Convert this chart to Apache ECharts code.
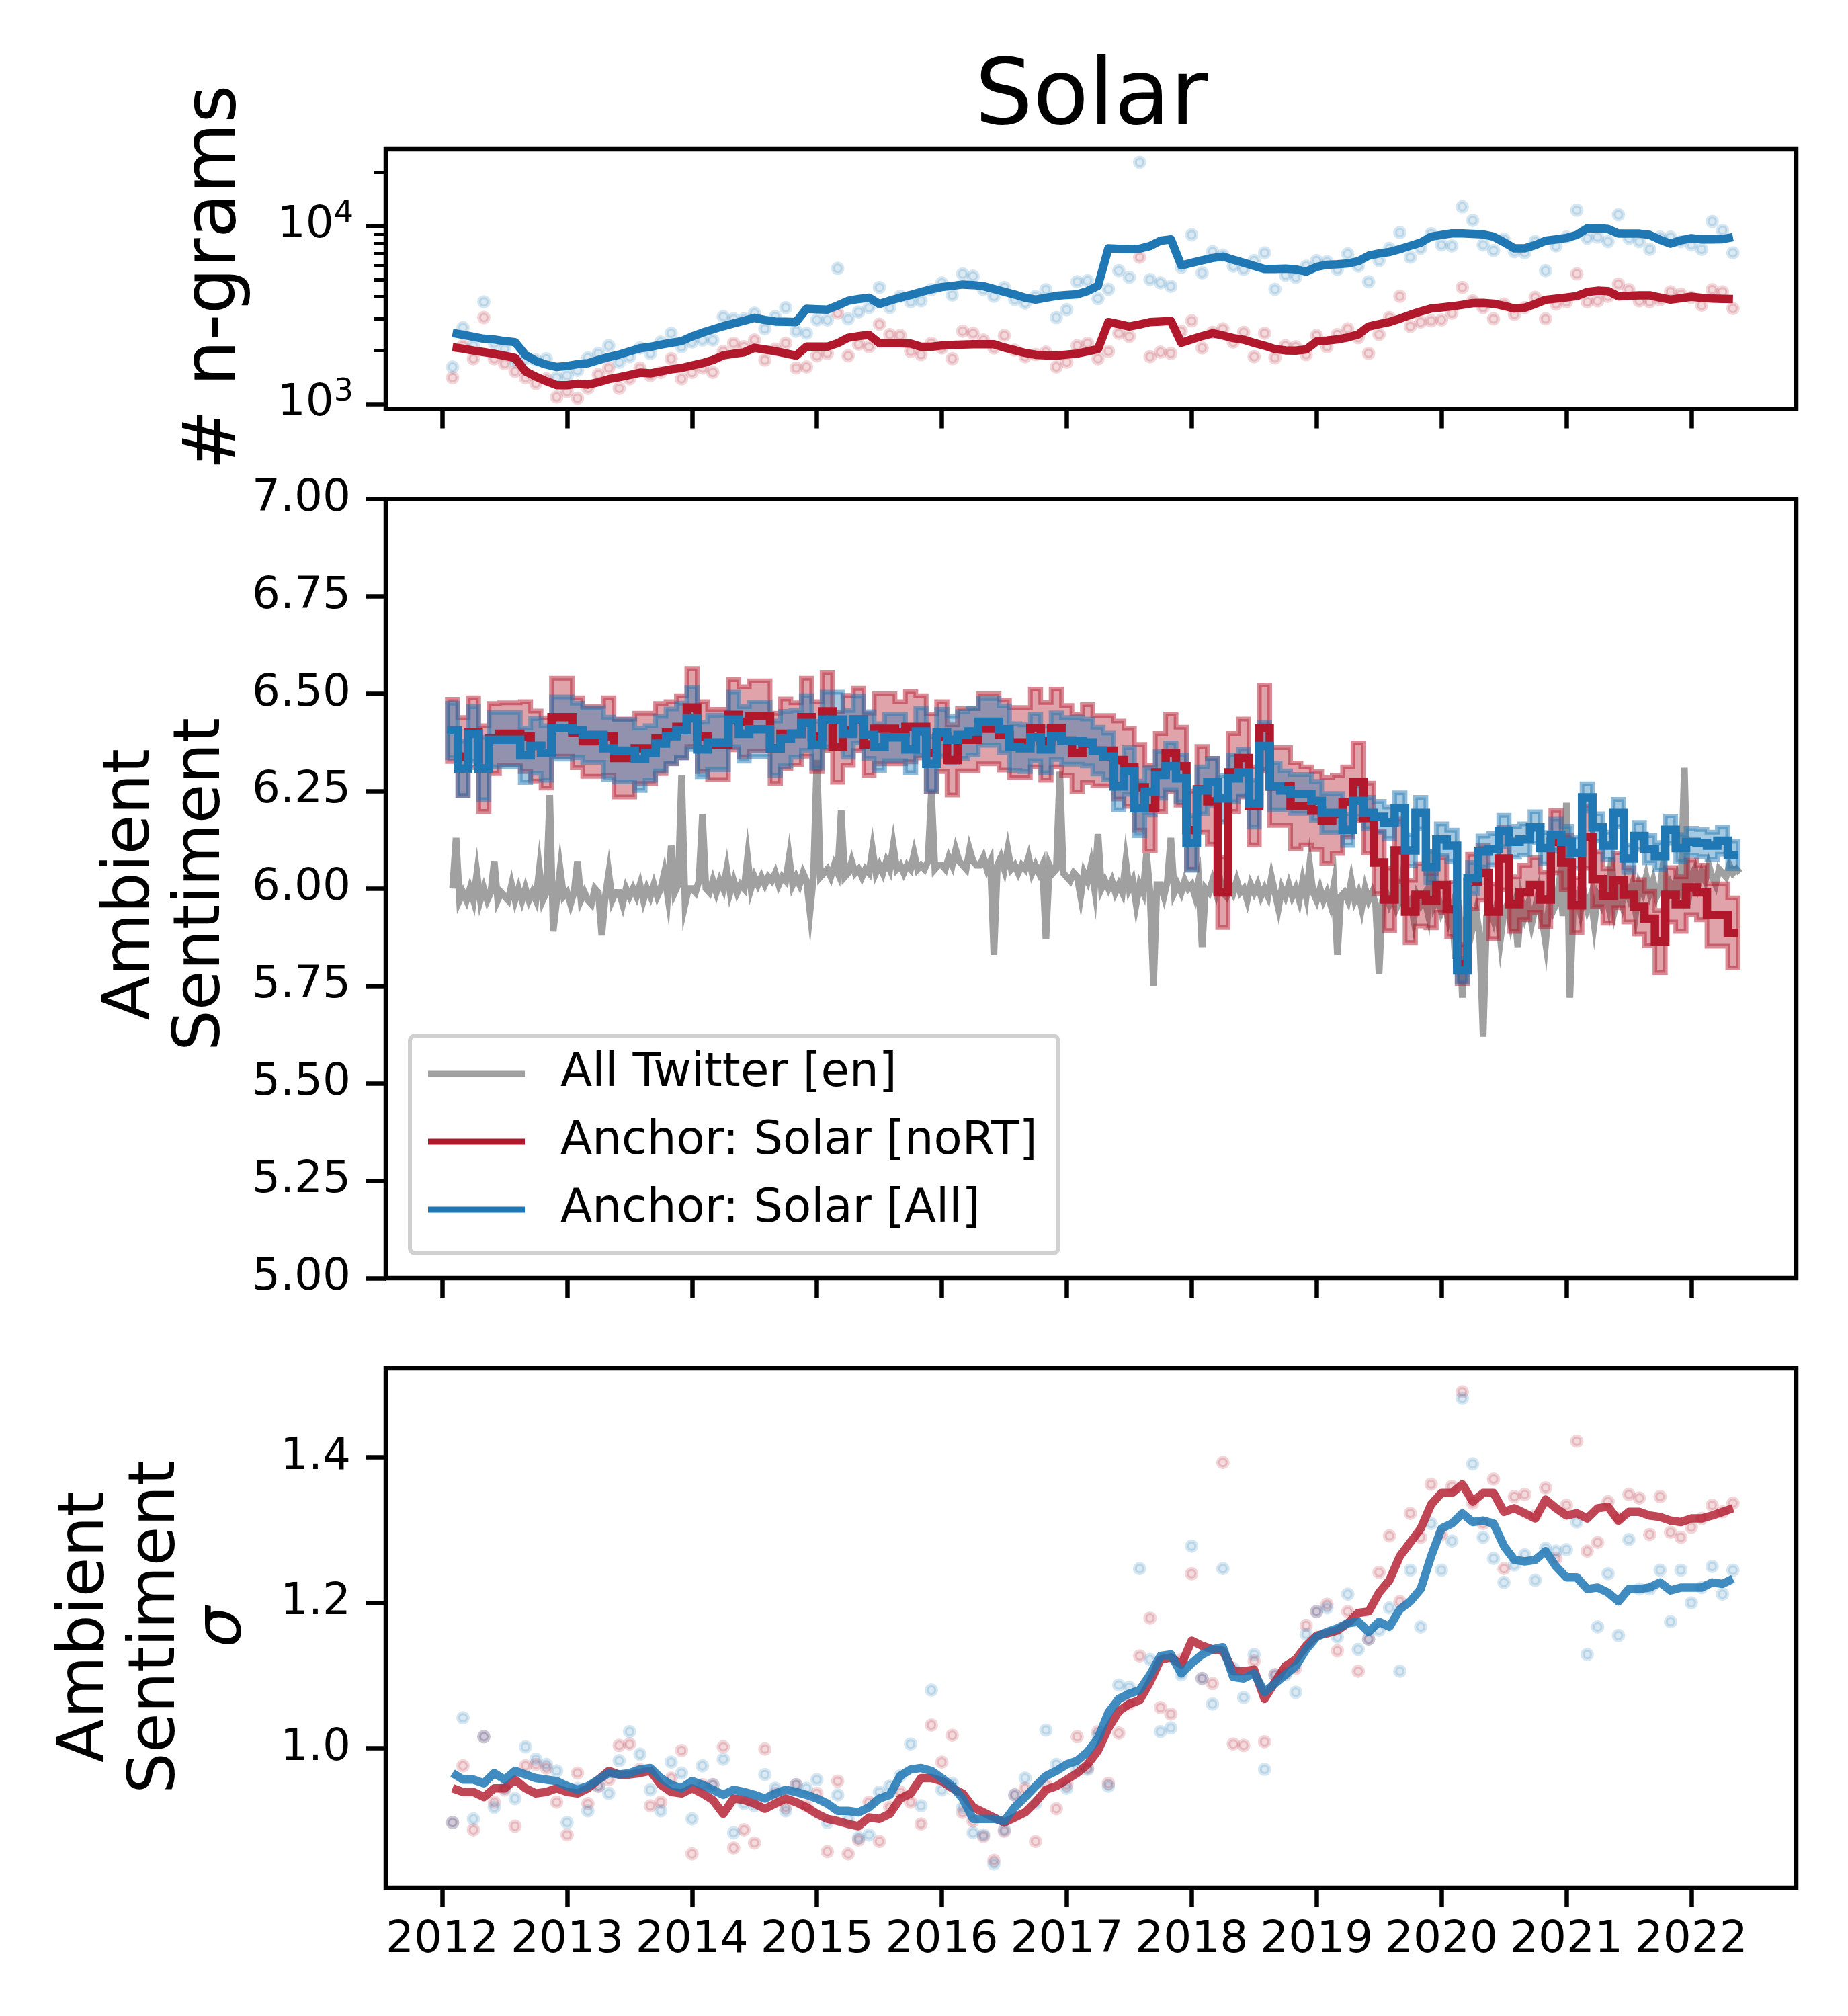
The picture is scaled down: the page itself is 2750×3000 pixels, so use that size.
<!DOCTYPE html>
<html><head><meta charset="utf-8">
<script src="https://cdn.jsdelivr.net/npm/echarts@6/dist/echarts.min.js"></script>
<style>html,body{margin:0;padding:0;background:#fff}#c{width:2750px;height:3000px}</style>
</head><body><div id="c"></div>
<script>
// ---------------- DATA ----------------
const firstYear = 2012, firstMonth = 2;           // monthly series start Feb 2012
const yearTicks = [2012,2013,2014,2015,2016,2017,2018,2019,2020,2021,2022];
const ngramTicks = [1000, 10000];
const ngramMinorTicks = [2000,3000,4000,5000,6000,7000,8000,9000,20000];
const sentimentTicks = [5.00,5.25,5.50,5.75,6.00,6.25,6.50,6.75,7.00];
const sigmaTicks = [1.0,1.2,1.4];
const legendNames = ['All Twitter [en]','Anchor: Solar [noRT]','Anchor: Solar [All]'];

const ngramsBlueDots = [1610,2680,2120,3740,2190,2030,1740,1790,1760,1790,1400,1440,1540,1810,1920,2120,1710,1840,2060,1920,2220,2490,2090,2220,2280,2280,3090,3000,3000,3230,2640,3090,3470,2560,2490,2960,2960,5770,3000,3280,3470,4510,3470,4020,3740,3790,4380,4780,4080,5370,5210,4380,4020,4510,3850,3680,4020,4380,3050,3380,4850,4920,3900,4400,5600,5140,22800,4990,4780,4570,5850,8910,5440,7170,6860,5940,5690,6380,7060,4400,5290,5140,5940,6380,6290,5690,6960,5940,4850,6380,7480,9170,6660,7480,9040,7820,7710,12790,10740,7820,7270,8410,7170,7060,8170,5600,7710,8650,12250,8530,8650,8170,11560,8530,8170,7380,8650,8650,8170,7820,7380,10590,9440,7060];
const ngramsRedDots = [1400,2120,1790,3050,1790,1680,1520,1400,1300,1380,1090,1170,1075,1220,1460,1590,1220,1380,1590,1440,1500,1790,1380,1500,1590,1500,1970,2190,2090,2280,1760,2030,2190,1590,1610,1860,1920,3230,1860,2160,2090,2800,2450,2420,1970,1890,2190,2060,1790,2560,2490,2280,2060,2420,2000,1840,1890,1950,1610,1710,2120,2190,1790,1970,2490,2390,6660,1840,1950,1920,2560,2920,2060,2520,2640,2220,2520,1840,2490,1810,2120,2090,1890,2420,2090,2450,2640,2350,1920,2450,3050,4020,2720,2880,2920,2960,3230,4510,3790,3470,3000,3630,3180,3470,3960,3000,3630,3740,5370,3740,3790,4020,4710,4380,3790,3740,3850,4260,4130,3960,3580,4380,4260,3430];
const ngramsBlueLine = [2500,2440,2380,2320,2300,2250,2220,1880,1740,1660,1610,1630,1670,1690,1760,1830,1890,1970,2050,2090,2150,2200,2250,2390,2510,2620,2730,2830,2930,3040,2960,2900,2890,2880,3420,3400,3380,3570,3790,3880,3950,3640,3800,3950,4090,4250,4400,4530,4600,4680,4650,4580,4420,4260,4110,3950,3850,3940,4040,4090,4120,4300,4600,7480,7440,7400,7450,7700,8250,8400,5990,6200,6400,6600,6720,6450,6200,5950,5720,5720,5750,5700,5530,5880,6050,6090,6150,6330,6800,7000,7130,7400,7720,8050,8700,8900,9080,9080,9020,8960,8700,8100,7480,7480,7800,8250,8400,8550,8900,9700,9710,9600,9050,9050,9050,8900,8350,7950,8300,8530,8400,8400,8420,8650];
const ngramsRedLine = [2080,2040,1990,1950,1910,1860,1810,1520,1420,1340,1270,1270,1295,1280,1320,1375,1410,1450,1495,1482,1520,1560,1590,1640,1690,1760,1870,1910,1945,2063,2020,1975,1920,1865,2094,2094,2094,2190,2350,2400,2440,2190,2190,2190,2180,2090,2090,2125,2140,2150,2160,2160,2160,2070,2000,1930,1885,1870,1862,1890,1915,1970,2030,2880,2800,2720,2790,2880,2900,2920,2200,2300,2400,2490,2420,2340,2290,2200,2120,2030,1995,1990,2020,2240,2265,2300,2360,2450,2720,2800,2880,3010,3160,3300,3430,3480,3530,3600,3680,3690,3650,3550,3430,3470,3640,3840,3900,3960,4030,4250,4320,4300,4020,4040,4070,4070,3950,3850,3920,4000,3940,3900,3890,3880];

const sentimentBlue = [6.406,6.308,6.397,6.308,6.382,6.382,6.382,6.342,6.366,6.348,6.412,6.412,6.406,6.394,6.394,6.36,6.354,6.354,6.332,6.348,6.372,6.391,6.406,6.437,6.357,6.375,6.375,6.434,6.397,6.409,6.409,6.36,6.385,6.397,6.425,6.369,6.434,6.434,6.397,6.434,
6.394,6.363,6.388,6.388,6.357,6.403,6.32,6.40,6.382,6.394,6.403,6.428,6.428,6.409,6.363,6.36,6.388,6.357,6.391,6.379,6.379,6.375,6.354,6.339,6.262,6.302,6.206,6.249,6.292,6.314,6.283,6.117,6.252,6.274,6.231,6.283,6.298,6.218,6.366,6.262,6.252,6.243,6.243,6.225,6.194,
6.194,6.151,6.225,6.194,6.184,6.169,6.206,6.098,6.194,6.055,6.126,6.11,5.79,6.027,6.095,6.101,6.148,6.12,6.126,6.157,6.104,6.138,6.12,6.092,6.234,6.157,6.11,6.194,6.077,6.135,6.101,6.083,6.151,6.104,6.12,6.117,6.11,6.123,6.086];
const sentimentRed = [6.406,6.339,6.40,6.308,6.385,6.397,6.397,6.39,6.366,6.348,6.44,6.44,6.40,6.378,6.378,6.39,6.335,6.335,6.36,6.36,6.385,6.40,6.415,6.465,6.39,6.37,6.37,6.446,6.428,6.443,6.443,6.36,6.397,6.397,6.44,6.39,6.455,6.363,6.406,6.434,
6.37,6.41,6.41,6.40,6.415,6.415,6.348,6.39,6.33,6.382,6.382,6.41,6.41,6.394,6.375,6.375,6.412,6.378,6.412,6.38,6.348,6.372,6.354,6.354,6.33,6.311,6.26,6.206,6.298,6.348,6.314,6.15,6.255,6.224,5.99,6.298,6.335,6.212,6.412,6.262,6.262,6.212,6.212,6.20,6.175,
6.19,6.222,6.274,6.181,6.067,5.972,6.098,5.941,5.984,5.969,6.009,5.947,5.806,6.018,6.04,5.941,6.077,5.96,5.99,6.009,5.972,6.12,6.067,5.957,6.132,6.024,5.981,6.021,5.984,5.953,5.923,5.864,5.984,5.96,6.003,5.99,5.932,5.932,5.886];
const sentimentRedErr = [0.08,0.10,0.09,0.11,0.09,0.08,0.08,0.09,0.09,0.09,0.10,0.10,0.09,0.09,0.09,0.10,0.10,0.10,0.09,0.09,0.09,0.08,0.08,0.10,0.09,0.09,0.09,0.09,0.09,0.09,0.09,0.09,0.09,0.08,0.10,0.09,0.10,0.09,0.09,0.08,
0.08,0.09,0.09,0.08,0.09,0.08,0.10,0.09,0.09,0.08,0.08,0.09,0.09,0.09,0.09,0.09,0.10,0.10,0.10,0.09,0.10,0.10,0.09,0.09,0.10,0.10,0.11,0.11,0.10,0.10,0.10,0.10,0.11,0.11,0.09,0.10,0.10,0.10,0.11,0.10,0.10,0.11,0.10,0.10,0.11,
0.10,0.09,0.10,0.09,0.08,0.08,0.08,0.08,0.08,0.07,0.07,0.07,0.05,0.07,0.07,0.07,0.08,0.07,0.07,0.07,0.07,0.08,0.07,0.07,0.08,0.07,0.07,0.07,0.07,0.07,0.07,0.08,0.07,0.07,0.07,0.07,0.08,0.08,0.09];
const sentimentBlueErr = [0.07,0.07,0.07,0.08,0.07,0.07,0.07,0.07,0.07,0.07,0.08,0.08,0.07,0.07,0.07,0.08,0.08,0.08,0.08,0.07,0.07,0.07,0.07,0.08,0.07,0.07,0.07,0.07,0.07,0.07,0.07,0.07,0.07,0.06,0.07,0.06,0.07,0.07,0.06,0.06,
0.06,0.06,0.06,0.06,0.06,0.06,0.07,0.06,0.06,0.06,0.06,0.06,0.06,0.06,0.06,0.06,0.06,0.06,0.06,0.06,0.06,0.06,0.06,0.06,0.06,0.06,0.07,0.06,0.06,0.06,0.06,0.07,0.06,0.06,0.06,0.06,0.06,0.06,0.06,0.06,0.05,0.05,0.05,0.05,0.05,
0.05,0.04,0.04,0.04,0.04,0.04,0.04,0.04,0.04,0.04,0.04,0.04,0.03,0.04,0.04,0.04,0.04,0.04,0.04,0.04,0.04,0.04,0.04,0.04,0.035,0.035,0.035,0.035,0.035,0.035,0.035,0.035,0.035,0.035,0.035,0.035,0.035,0.035,0.035];

// All Twitter [en]: three readings per month (start, ~10th, ~20th), Feb 2012 - May 2022
const allTwitter = [
6.00,6.13,5.97,5.99,5.97,6.00,5.97,6.04,5.97,6.00,5.97,5.99,6.07,5.97,5.99,5.98,5.97,6.01,5.97,6.00,5.97,6.00,5.97,5.99,5.97,6.05,5.97,5.99,6.24,5.89,5.97,6.05,5.98,
5.99,5.96,5.99,6.07,5.97,5.99,5.97,5.96,6.00,5.99,5.88,5.98,6.04,5.97,5.99,5.99,5.96,6.00,5.98,6.00,5.98,6.01,5.97,6.00,5.98,6.01,5.98,6.00,6.04,5.98,6.11,5.99,6.01,6.29,5.96,6.00,
6.00,5.99,6.02,6.19,6.00,5.99,6.02,5.99,6.02,6.00,6.05,5.99,6.02,5.99,6.01,6.00,6.08,6.00,6.03,6.01,6.03,6.01,6.03,6.02,6.04,6.01,6.03,6.02,6.08,6.01,6.03,6.01,6.04,6.02,5.94,6.03,
6.33,6.03,6.04,6.05,6.03,6.06,6.04,6.20,6.03,6.04,6.07,6.04,6.05,6.03,6.05,6.04,6.10,6.04,6.06,6.04,6.07,6.05,6.11,6.05,6.06,6.04,6.06,6.05,6.09,6.05,6.06,6.05,6.07,6.25,6.05,6.06,
6.06,6.05,6.08,6.06,6.10,6.07,6.06,6.05,6.10,6.07,6.06,6.06,6.08,6.05,6.07,5.83,6.06,6.08,6.05,6.10,6.05,6.06,6.04,6.06,6.05,6.08,6.04,6.06,6.04,6.06,5.87,6.06,6.04,6.05,6.30,6.04,
6.03,6.02,6.04,6.03,5.98,6.04,6.02,6.06,6.00,6.14,6.00,6.02,6.00,6.02,5.99,6.01,5.99,6.07,6.00,6.02,5.96,6.01,5.99,6.09,5.99,5.75,6.01,6.01,5.98,6.02,6.13,5.99,6.01,5.99,6.02,6.00,
6.01,5.98,6.02,5.85,6.00,5.99,6.02,5.99,6.03,5.99,5.98,6.01,5.99,6.02,5.99,6.00,5.97,6.01,5.99,6.01,5.98,6.00,5.98,6.03,5.99,5.95,6.00,5.98,6.01,5.98,6.00,5.97,6.02,5.98,6.06,5.99,
5.97,6.00,5.97,5.99,5.96,6.01,5.83,5.98,5.99,5.97,6.02,5.97,5.99,5.95,6.00,5.97,5.99,5.96,5.78,5.97,5.99,5.96,5.98,5.95,5.97,6.04,5.96,5.97,5.92,5.98,5.96,5.98,5.94,6.10,5.96,5.98,
5.94,5.96,5.92,5.95,5.82,5.97,5.72,5.92,5.95,5.90,5.94,5.88,5.62,5.93,5.95,5.92,5.96,5.87,5.94,5.96,5.91,5.95,5.85,5.97,5.93,5.96,5.91,5.95,5.99,5.92,5.86,5.96,5.94,5.96,6.02,5.93,
6.22,5.72,5.96,5.98,5.94,5.99,5.95,5.98,5.91,5.98,5.96,6.00,5.96,6.08,5.95,5.99,5.96,6.01,5.98,6.01,5.94,6.01,5.99,6.03,5.99,6.02,5.98,6.00,6.07,5.98,6.01,5.99,6.03,6.00,6.31,5.96,
6.03,6.05,6.01,6.04,6.02,6.06,6.03,6.01,6.05,6.04,6.03,6.06,6.04,6.05,6.04];

const sigmaBlueLine = [0.966,0.957,0.957,0.952,0.966,0.957,0.969,0.964,0.959,0.957,0.955,0.948,0.943,0.948,0.957,0.966,0.964,0.966,0.971,0.973,0.959,0.950,0.945,0.955,0.950,0.943,0.936,0.943,0.940,0.936,0.931,0.938,0.943,0.940,0.936,0.931,0.924,0.914,0.914,0.912,0.919,0.931,0.936,0.962,0.971,0.973,0.969,0.959,0.948,0.931,0.903,0.903,0.903,0.900,0.919,0.933,0.948,0.962,0.969,0.978,0.983,0.995,1.014,1.049,1.068,1.075,1.080,1.101,1.127,1.129,1.103,1.117,1.129,1.136,1.139,1.098,1.096,1.103,1.077,1.089,1.101,1.113,1.136,1.153,1.160,1.165,1.172,1.174,1.160,1.174,1.167,1.191,1.202,1.219,1.264,1.302,1.309,1.323,1.311,1.313,1.309,1.278,1.259,1.257,1.259,1.271,1.250,1.235,1.235,1.219,1.221,1.214,1.202,1.219,1.219,1.221,1.228,1.217,1.221,1.221,1.221,1.228,1.226,1.233];
const sigmaRedLine = [0.945,0.940,0.940,0.933,0.945,0.945,0.957,0.945,0.938,0.940,0.945,0.940,0.938,0.945,0.957,0.969,0.964,0.964,0.966,0.969,0.950,0.940,0.938,0.945,0.938,0.929,0.910,0.931,0.929,0.924,0.917,0.924,0.931,0.926,0.919,0.910,0.903,0.900,0.896,0.893,0.905,0.903,0.910,0.931,0.938,0.959,0.959,0.955,0.945,0.938,0.919,0.912,0.905,0.898,0.905,0.912,0.926,0.943,0.948,0.957,0.966,0.978,0.997,1.028,1.051,1.061,1.066,1.091,1.122,1.125,1.115,1.148,1.141,1.136,1.134,1.106,1.106,1.108,1.068,1.091,1.113,1.122,1.141,1.155,1.158,1.162,1.172,1.186,1.188,1.214,1.231,1.264,1.283,1.302,1.335,1.351,1.351,1.363,1.339,1.351,1.351,1.325,1.330,1.323,1.316,1.342,1.330,1.320,1.323,1.316,1.330,1.332,1.313,1.325,1.325,1.320,1.318,1.313,1.311,1.316,1.316,1.320,1.325,1.330];
const sigmaBlueDots = [0.898,1.042,0.903,1.016,0.919,0.945,0.931,1.002,0.985,0.978,0.969,0.898,0.945,0.914,0.948,0.938,0.983,1.023,0.992,0.943,0.914,0.981,0.966,0.903,0.976,0.950,0.985,0.884,0.924,0.921,0.964,0.945,0.914,0.950,0.945,0.957,0.898,0.936,0.903,0.877,0.881,0.940,0.948,0.962,1.006,0.921,1.080,0.943,0.952,0.919,0.884,0.881,0.841,0.888,0.936,0.959,0.924,1.025,0.978,0.945,0.971,0.971,1.018,0.948,1.087,1.084,1.247,1.122,1.023,1.028,1.101,1.278,1.096,1.061,1.247,1.110,1.070,1.129,0.971,1.101,1.101,1.077,1.157,1.188,1.193,1.153,1.212,1.136,1.150,1.162,1.193,1.106,1.245,1.167,1.309,1.245,1.285,1.481,1.391,1.290,1.261,1.228,1.252,1.266,1.231,1.275,1.271,1.273,1.311,1.129,1.167,1.240,1.155,1.287,1.219,1.219,1.245,1.174,1.245,1.200,1.221,1.250,1.212,1.245];
const sigmaRedDots = [0.898,0.976,0.888,1.016,0.926,0.943,0.893,0.976,0.978,0.973,0.926,0.881,0.966,0.924,0.948,0.957,1.004,1.006,0.971,0.921,0.926,0.959,0.997,0.855,0.950,0.950,1.002,0.863,0.888,0.870,0.999,0.938,0.919,0.950,0.921,0.938,0.858,0.955,0.855,0.874,0.926,0.872,0.919,0.940,0.926,0.896,1.032,0.981,1.018,0.912,0.900,0.879,0.846,0.886,0.936,0.945,0.872,0.950,0.917,0.950,1.016,0.973,1.023,0.952,1.021,1.061,1.127,1.179,1.056,1.047,1.122,1.240,1.096,1.089,1.393,1.006,1.004,1.120,1.009,1.101,1.103,1.110,1.169,1.188,1.198,1.134,1.188,1.106,1.150,1.242,1.292,1.202,1.323,1.290,1.363,1.294,1.360,1.490,1.337,1.309,1.370,1.247,1.346,1.349,1.320,1.358,1.261,1.334,1.422,1.271,1.283,1.339,1.316,1.349,1.344,1.294,1.346,1.297,1.290,1.304,1.316,1.334,1.325,1.337];

// ---------------- HELPERS ----------------
const FONT = 'DejaVu Sans';
const RED = '#b2182b', BLUE = '#1f77b4', GRAY = '#a0a0a0';
const redA = a => 'rgba(178,24,43,' + a + ')';
const blueA = a => 'rgba(31,119,180,' + a + ')';
const monthX = i => firstYear + (firstMonth - 1 + i) / 12;
const HALF_MONTH = 1 / 24;
const pairs = arr => arr.map((v, i) => [monthX(i), v]);
const X_MIN = 2011.548, X_MAX = 2022.84;
const AX_W = 6.5, TICK_LEN = 29;

const grids = [
  {left: 574, top: 222, width: 2099, height: 386.5},
  {left: 574, top: 742.5, width: 2099, height: 1159.5},
  {left: 574, top: 2036, width: 2099, height: 773}
].map(g => Object.assign(g, {show: true, borderColor: '#000', borderWidth: AX_W, backgroundColor: 'transparent', containLabel: false, outerBoundsMode: 'none'}));

function xAxisCfg(gi, labels) {
  return {type: 'value', gridIndex: gi, min: X_MIN, max: X_MAX, splitLine: {show: false}, axisLine: {show: false},
    axisTick: {show: true, customValues: yearTicks, length: TICK_LEN, lineStyle: {color: '#000', width: AX_W}},
    axisLabel: {show: labels, customValues: yearTicks, margin: 46, color: '#000', fontSize: 66, fontFamily: FONT,
      formatter: v => String(Math.round(v))}};
}
function yAxisCfg(gi, min, max, ticks, fmt) {
  return {type: 'value', gridIndex: gi, min, max, splitLine: {show: false}, axisLine: {show: false},
    axisTick: {show: true, customValues: ticks, length: TICK_LEN, lineStyle: {color: '#000', width: AX_W}},
    axisLabel: {show: true, customValues: ticks, margin: 52, color: '#000', fontSize: 66, fontFamily: FONT, formatter: fmt}};
}

function dots(arr, xi, yi, colA) {
  return {type: 'scatter', xAxisIndex: xi, yAxisIndex: yi, data: pairs(arr), symbol: 'circle', symbolSize: 14,
    itemStyle: {color: colA(0.2), borderColor: colA(0.22), borderWidth: 6}, silent: true, z: 2};
}
function line(arr, xi, yi, color, width) {
  return {type: 'line', xAxisIndex: xi, yAxisIndex: yi, data: pairs(arr), showSymbol: false, symbol: 'none',
    lineStyle: {color, width, cap: 'butt', join: 'round'}, itemStyle: {color}, color, silent: true, z: 3};
}
// step band (monthly values held for the whole month), drawn as one polygon through the axis scales
function stepBand(center, err, colA) {
  const data = center.map((v, i) => [monthX(i), v - err[i], v + err[i]]);
  return {type: 'custom', xAxisIndex: 1, yAxisIndex: 2, data, clip: true, silent: true, z: 2,
    encode: {x: 0, y: [1, 2]},
    renderItem: (params, api) => {
      if (params.dataIndex !== 0) return null;
      const up = [], dn = [];
      for (const d of data) {
        up.push(api.coord([d[0] - HALF_MONTH, d[2]]), api.coord([d[0] + HALF_MONTH, d[2]]));
        dn.push(api.coord([d[0] - HALF_MONTH, d[1]]), api.coord([d[0] + HALF_MONTH, d[1]]));
      }
      return {type: 'polygon', shape: {points: up.concat(dn.reverse())},
        style: {fill: colA(0.4), stroke: colA(0.5), lineWidth: 7, lineJoin: 'miter'}};
    }};
}
function stepLine(name, arr, color, width) {
  const data = pairs(arr);
  return {type: 'custom', name, xAxisIndex: 1, yAxisIndex: 2, data, clip: true, silent: true, z: 3,
    itemStyle: {color}, color, encode: {x: 0, y: 1},
    renderItem: (params, api) => {
      if (params.dataIndex !== 0) return null;
      const pts = [];
      for (const d of data) pts.push(api.coord([d[0] - HALF_MONTH, d[1]]), api.coord([d[0] + HALF_MONTH, d[1]]));
      return {type: 'polyline', shape: {points: pts}, style: {stroke: color, lineWidth: width, fill: null, lineJoin: 'miter'}};
    }};
}

const grayPairs = allTwitter.map((v, j) => [monthX(Math.floor(j / 3)) + (j % 3) / 36, v]);

const series = [
  // top panel
  dots(ngramsRedDots, 0, 0, redA),
  dots(ngramsBlueDots, 0, 0, blueA),
  line(ngramsRedLine, 0, 0, RED, 12.5),
  line(ngramsBlueLine, 0, 0, BLUE, 12.5),
  // middle panel
  {type: 'line', name: legendNames[0], xAxisIndex: 1, yAxisIndex: 2, data: grayPairs, showSymbol: false, symbol: 'none',
    lineStyle: {color: GRAY, width: 10, join: 'miter'}, itemStyle: {color: GRAY}, color: GRAY, silent: true, z: 1},
  stepBand(sentimentRed, sentimentRedErr, redA),
  stepBand(sentimentBlue, sentimentBlueErr, blueA),
  stepLine(legendNames[1], sentimentRed, RED, 12.5),
  stepLine(legendNames[2], sentimentBlue, BLUE, 12.5),
  // bottom panel
  dots(sigmaRedDots, 2, 3, redA),
  dots(sigmaBlueDots, 2, 3, blueA),
  line(sigmaRedLine, 2, 3, 'rgba(178,24,43,0.8)', 12.5),
  line(sigmaBlueLine, 2, 3, 'rgba(31,119,180,0.85)', 12.5)
];

const option = {
  animation: false,
  backgroundColor: '#ffffff',
  textStyle: {fontFamily: FONT},
  grid: grids,
  xAxis: [xAxisCfg(0, false), xAxisCfg(1, false), xAxisCfg(2, true)],
  yAxis: [
    {type: 'log', logBase: 10, gridIndex: 0, min: 935, max: 27000, splitLine: {show: false}, axisLine: {show: false},
      axisTick: {show: true, customValues: ngramTicks, length: TICK_LEN, lineStyle: {color: '#000', width: AX_W}},
      axisLabel: {show: true, customValues: ngramTicks, margin: 48, color: '#000',
        formatter: v => '{b|10}{s|' + Math.round(Math.log10(v)) + '}',
        rich: {b: {fontSize: 66, fontFamily: FONT, color: '#000'}, s: {fontSize: 46, fontFamily: FONT, color: '#000', padding: [0, 0, 34, 0]}}}},
    {type: 'log', logBase: 10, gridIndex: 0, min: 935, max: 27000, position: 'left', splitLine: {show: false}, axisLine: {show: false},
      axisTick: {show: true, customValues: ngramMinorTicks, length: 17, lineStyle: {color: '#000', width: 5}},
      axisLabel: {show: false}},
    yAxisCfg(1, 5, 7, sentimentTicks, v => v.toFixed(2)),
    yAxisCfg(2, 0.8085, 1.5225, sigmaTicks, v => v.toFixed(1))
  ],
  legend: {
    show: true, orient: 'vertical', left: 610, top: 1541, data: legendNames, icon: 'rect',
    itemWidth: 144, itemHeight: 9, itemGap: 21, padding: [17, 31, 25, 27], selectedMode: false,
    backgroundColor: 'rgba(255,255,255,0.8)', borderColor: '#d0d0d0', borderWidth: 6, borderRadius: 8,
    textStyle: {fontSize: 69, fontFamily: FONT, color: '#000', lineHeight: 80, padding: [0, 0, 0, 48]}
  },
  graphic: [
    {type: 'text', x: 1624, y: 149, style: {text: 'Solar', font: '136px "DejaVu Sans"', fill: '#000', align: 'center', verticalAlign: 'middle'}},
    {type: 'text', x: 321, y: 413, rotation: Math.PI / 2, style: {text: '# n-grams', font: '108px "DejaVu Sans"', fill: '#000', align: 'center', verticalAlign: 'middle'}},
    {type: 'text', x: 196, y: 1316, rotation: Math.PI / 2, style: {text: 'Ambient', font: '96px "DejaVu Sans"', fill: '#000', align: 'center', verticalAlign: 'middle'}},
    {type: 'text', x: 301, y: 1316, rotation: Math.PI / 2, style: {text: 'Sentiment', font: '96px "DejaVu Sans"', fill: '#000', align: 'center', verticalAlign: 'middle'}},
    {type: 'text', x: 129, y: 2421, rotation: Math.PI / 2, style: {text: 'Ambient', font: '96px "DejaVu Sans"', fill: '#000', align: 'center', verticalAlign: 'middle'}},
    {type: 'text', x: 234, y: 2421, rotation: Math.PI / 2, style: {text: 'Sentiment', font: '96px "DejaVu Sans"', fill: '#000', align: 'center', verticalAlign: 'middle'}},
    {type: 'text', x: 333, y: 2421, rotation: Math.PI / 2, style: {text: 'σ', font: 'italic 96px "DejaVu Sans"', fill: '#000', align: 'center', verticalAlign: 'middle'}}
  ],
  series
};

const chart = echarts.init(document.getElementById('c'), null, {renderer: 'canvas', width: 2750, height: 3000});
chart.setOption(option);
</script>
</body></html>
